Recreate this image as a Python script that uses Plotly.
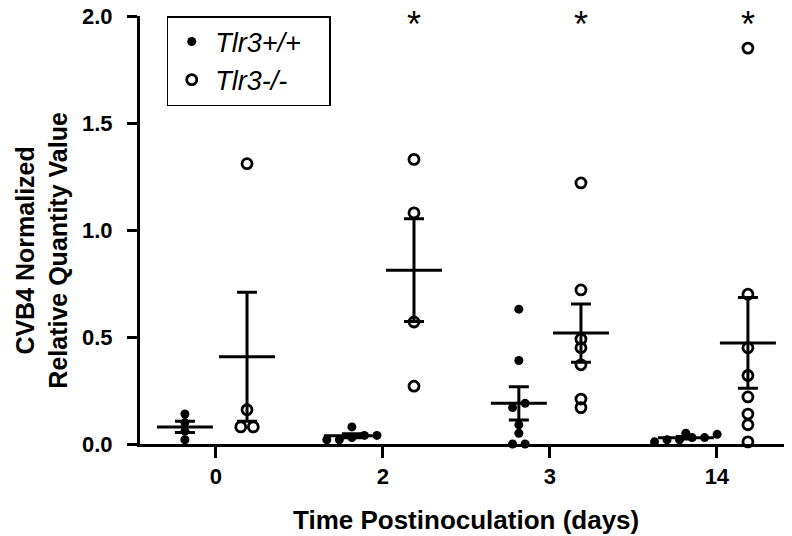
import numpy as np
import plotly.graph_objects as go

days = ["0", "2", "3", "14"]

# CVB4 normalized relative quantity, one list per time point
wt_values = [
    [0.14, 0.10, 0.06, 0.02],
    [0.08, 0.04, 0.04, 0.03, 0.02, 0.02],
    [0.63, 0.39, 0.19, 0.17, 0.09, 0.05, 0.0, 0.0],
    [0.05, 0.045, 0.03, 0.03, 0.02, 0.02, 0.01],
]
ko_values = [
    [1.31, 0.16, 0.08, 0.08],
    [1.33, 1.08, 0.57, 0.27],
    [1.22, 0.72, 0.49, 0.45, 0.37, 0.21, 0.17],
    [1.85, 0.70, 0.45, 0.32, 0.22, 0.14, 0.09, 0.01],
]
significant = [False, True, True, True]

FONT = "Arial, Liberation Sans, sans-serif"
OFFSET = 0.186


def swarm(vals, thr=0.035, step=0.075):
    # spread points with nearly equal values side by side
    order = np.argsort(vals)
    offs = np.zeros(len(vals))
    groups, cur = [], [order[0]]
    for idx in order[1:]:
        if vals[idx] - vals[cur[0]] <= thr:
            cur.append(idx)
        else:
            groups.append(cur)
            cur = [idx]
    groups.append(cur)
    for g in groups:
        k = len(g)
        for j, idx in enumerate(g):
            offs[idx] = (j - (k - 1) / 2) * step
    return offs


def group_points(values, shift):
    xs, ys = [], []
    for i, vals in enumerate(values):
        offs = swarm(vals)
        xs.extend(i + shift + offs)
        ys.extend(vals)
    return xs, ys


def mean_sem(values):
    means = [np.mean(v) for v in values]
    sems = [np.std(v, ddof=1) / np.sqrt(len(v)) for v in values]
    return means, sems


fig = go.Figure()

wx, wy = group_points(wt_values, -OFFSET)
kx, ky = group_points(ko_values, OFFSET)

fig.add_trace(go.Scatter(
    x=wx, y=wy, mode="markers", name="<i>Tlr3+/+</i>&nbsp;&nbsp;&nbsp;",
    marker=dict(symbol="circle", size=9, color="black"),
    cliponaxis=False,
))
fig.add_trace(go.Scatter(
    x=kx, y=ky, mode="markers", name="<i>Tlr3-/-</i>",
    marker=dict(symbol="circle-open", size=10, color="black", line=dict(width=2.8)),
    cliponaxis=False,
))

for values, shift in [(wt_values, -OFFSET), (ko_values, OFFSET)]:
    means, sems = mean_sem(values)
    fig.add_trace(go.Scatter(
        x=[i + shift for i in range(len(days))], y=means, mode="markers",
        marker=dict(symbol="line-ew", size=40, color="black",
                    line=dict(width=3, color="black")),
        error_y=dict(type="data", array=sems, visible=True,
                     color="black", thickness=3, width=10),
        showlegend=False, hoverinfo="skip", cliponaxis=False,
    ))

for i, sig in enumerate(significant):
    if sig:
        fig.add_annotation(
            x=i + OFFSET, y=2.0, text="*", showarrow=False,
            yanchor="top", yshift=14,
            font=dict(family=FONT, size=36, color="black"),
        )

# axis titles
fig.add_annotation(
    xref="paper", yref="paper", x=0.5, y=-0.178, xanchor="center", yanchor="middle",
    text="<b>Time Postinoculation (days)</b>", showarrow=False,
    font=dict(family=FONT, size=26, color="black"),
)
fig.add_annotation(
    xref="paper", yref="paper", x=-0.151, y=0.453, xanchor="center", yanchor="middle",
    text="<b>CVB4 Normalized<br>Relative Quantity Value</b>", showarrow=False,
    textangle=-90,
    font=dict(family=FONT, size=25, color="black"),
)

# the page body adds 8 px around the figure, so the figure is 8 px smaller
fig.update_layout(
    width=784, height=528,
    margin=dict(l=132, r=0, t=8, b=92),
    paper_bgcolor="white", plot_bgcolor="white",
    font=dict(family=FONT, color="black"),
    showlegend=True,
    legend=dict(
        x=0.041, y=1.0, xanchor="left", yanchor="top",
        bordercolor="black", borderwidth=1.5, bgcolor="white",
        font=dict(family=FONT, size=27, color="black"),
        itemwidth=37,
    ),
)

fig.update_xaxes(
    range=[-0.455, 3.45], automargin=False,
    tickmode="array", tickvals=list(range(len(days))), ticktext=days,
    showline=True, linecolor="black", linewidth=3,
    ticks="outside", ticklen=11, tickwidth=3, tickcolor="black",
    ticklabelstandoff=0, ticklabeloverflow="allow",
    showgrid=False, zeroline=False,
    tickfont=dict(family=FONT, size=22, color="black", weight="bold"),
)
fig.update_yaxes(
    range=[0, 2.0], automargin=False,
    tickvals=[0, 0.5, 1.0, 1.5, 2.0], ticktext=["0.0", "0.5", "1.0", "1.5", "2.0"],
    showline=True, linecolor="black", linewidth=3,
    ticks="outside", ticklen=10, tickwidth=3, tickcolor="black",
    ticklabelstandoff=10, ticklabeloverflow="allow",
    showgrid=False, zeroline=False,
    tickfont=dict(family=FONT, size=22, color="black", weight="bold"),
)

fig.write_html("out.html")
